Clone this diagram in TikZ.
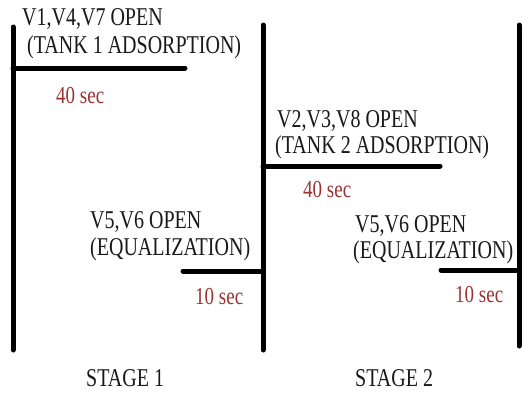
\documentclass[tikz,border=0pt]{standalone}
\usepackage{fontspec}
\usepackage{graphicx}
\setmainfont{Liberation Serif}
\definecolor{secred}{RGB}{155,50,50}
\definecolor{txt}{RGB}{25,25,25}
\newcommand{\tallt}[1]{\scalebox{1}[1.28]{#1}}
\begin{document}
\begin{tikzpicture}[x=1pt,y=-1pt,
  bar/.style={line width=5pt,line cap=round,black},
  lbl/.style={anchor=west,inner sep=0pt,font=\fontsize{20}{22}\selectfont,text=txt},
  sec/.style={anchor=west,inner sep=0pt,font=\fontsize{19}{21}\selectfont,text=secred}]
\useasboundingbox[fill=white] (0,0) rectangle (522,392);
% vertical lines
\coordinate (v1t) at (13,27); \coordinate (v1b) at (13,350);
\coordinate (v2t) at (263,25); \coordinate (v2b) at (263,350);
\coordinate (v3t) at (519,25); \coordinate (v3b) at (519,346);
\draw[bar] (v1t) -- (v1b);
\draw[bar] (v2t) -- (v2b);
\draw[bar] (v3t) -- (v3b);
% horizontal lines
\coordinate (h1a) at (13,68); \coordinate (h1b) at (185,68);
\coordinate (h2a) at (263,166); \coordinate (h2b) at (440,166);
\coordinate (h3a) at (183,271); \coordinate (h3b) at (263,271);
\coordinate (h4a) at (441,270); \coordinate (h4b) at (519,270);
\draw[bar] (h1a) -- (h1b);
\draw[bar] (h2a) -- (h2b);
\draw[bar] (h3a) -- (h3b);
\draw[bar] (h4a) -- (h4b);
% texts
\node[lbl] (t1a) at (22,19) {\tallt{V1,V4,V7 OPEN}};
\node[lbl] (t1b) at (27,47) {\tallt{(TANK 1 ADSORPTION)}};
\node[sec] (s1) at (56,96) {\tallt{40 sec}};
\node[lbl] (t2a) at (277,121) {\tallt{V2,V3,V8 OPEN}};
\node[lbl] (t2b) at (275,147) {\tallt{(TANK 2 ADSORPTION)}};
\node[sec] (s2) at (303,190) {\tallt{40 sec}};
\node[lbl] (t3a) at (90,222) {\tallt{V5,V6 OPEN}};
\node[lbl] (t3b) at (90,249) {\tallt{(EQUALIZATION)}};
\node[sec] (s3) at (195,297) {\tallt{10 sec}};
\node[lbl] (t4a) at (355,226) {\tallt{V5,V6 OPEN}};
\node[lbl] (t4b) at (353,252) {\tallt{(EQUALIZATION)}};
\node[sec] (s4) at (455,295) {\tallt{10 sec}};
\node[lbl] (st1) at (86,378) {\tallt{STAGE 1}};
\node[lbl] (st2) at (355,378) {\tallt{STAGE 2}};
\end{tikzpicture}
\end{document}
